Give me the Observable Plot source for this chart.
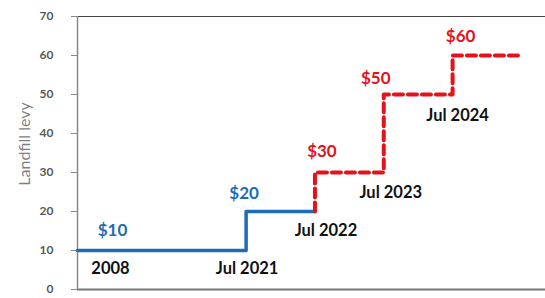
<!DOCTYPE html>
<html><head><meta charset="utf-8">
<script src="https://cdn.jsdelivr.net/npm/d3@7"></script>
<script src="https://cdn.jsdelivr.net/npm/@observablehq/plot@0.6"></script>
<style>body{margin:0;background:#fff}</style>
</head><body><div id="chart"></div>
<script>
// Data
const dates = ["2008", "Jul 2021", "Jul 2022", "Jul 2023", "Jul 2024"];
const levels = [10, 20, 30, 50, 60];
const starts = [0, 2.45, 3.45, 4.45, 5.45]; // category-axis positions of each change
const endPos = 6.45;
const planned = [false, false, true, true, true];
const yTicks = [0, 10, 20, 30, 40, 50, 60, 70];

// label nudges (layout only)
const dollarDx = [35, -2, 7, -8, 8];
const dollarDy = [-20, -18, -21, -16, -19];
const dateDx = [33, 1, 11, 7, 5];
const dateDy = [18, 18, 19, 20, 21];

const blue = "#1d6db5", red = "#e3121b";

const fp = planned.indexOf(true);
const actualPts = [];
for (let i = 0; i < fp; i++) actualPts.push({x: starts[i], y: levels[i]});
actualPts.push({x: starts[fp], y: levels[fp - 1]});
const plannedPts = [{x: starts[fp], y: levels[fp - 1]}];
for (let i = fp; i < levels.length; i++) plannedPts.push({x: starts[i], y: levels[i]});
plannedPts.push({x: endPos, y: levels[levels.length - 1]});

const labels = levels.map((v, i) => ({
  x: starts[i], y: v, text: "$" + v, color: planned[i] ? red : blue,
  dx: dollarDx[i], dy: dollarDy[i]
}));
const dateLabels = dates.map((d, i) => ({
  x: starts[i], y: i === 0 ? levels[0] : levels[i - 1], text: d,
  dx: dateDx[i], dy: dateDy[i]
}));

const chart = Plot.plot({
  width: 545, height: 298,
  marginLeft: 77, marginRight: 0, marginTop: 16, marginBottom: 9,
  style: {fontFamily: "Lato, 'Open Sans', sans-serif", background: "#fff"},
  x: {domain: [0, 6.8], axis: null},
  y: {domain: [0, 70], axis: null},
  marks: [
    Plot.axisY({ticks: yTicks, tickSize: 6, tickPadding: 18, label: null,
      color: "#595959", fontWeight: "bold", fontSize: 12, stroke: "#888"}),
    Plot.ruleY([70], {stroke: "#444", strokeWidth: 1}),
    Plot.ruleY([0], {stroke: "#777", strokeWidth: 2}),
    Plot.ruleX([0], {stroke: "#888", strokeWidth: 1.5}),
    Plot.line(actualPts, {x: "x", y: "y", curve: "step-after", stroke: blue, strokeWidth: 3.5}),
    Plot.line(plannedPts, {x: "x", y: "y", curve: "step-after", stroke: red, strokeWidth: 4,
      strokeDasharray: "9,5"}),
    ...labels.map(d => Plot.text([d], {x: "x", y: "y", text: "text", fill: d.color,
      dx: d.dx, dy: d.dy, fontSize: 17, fontWeight: "bold", lineAnchor: "middle"})),
    ...dateLabels.map(d => Plot.text([d], {x: "x", y: "y", text: "text", fill: "#111",
      dx: d.dx, dy: d.dy, fontSize: 16.5, fontWeight: "bold", lineAnchor: "middle"})),
    Plot.text(["Landfill levy"], {frameAnchor: "left", textAnchor: "middle", lineAnchor: "middle",
      rotate: -90, dx: -53, dy: -9, fill: "#7f7f7f", fontSize: 16})
  ]
});
document.getElementById("chart").appendChild(chart);
</script>
</body></html>
